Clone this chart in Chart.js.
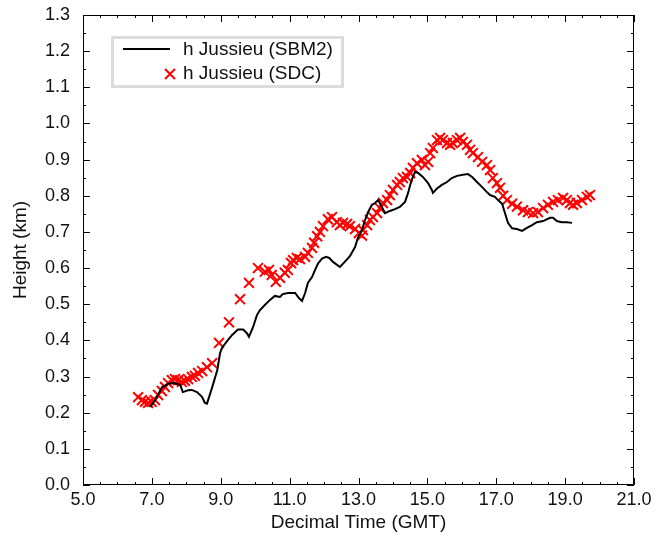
<!DOCTYPE html>
<html>
<head>
<meta charset="utf-8">
<script src="https://cdn.jsdelivr.net/npm/chart.js@4.4.1/dist/chart.umd.min.js"></script>
<style>
  html, body { margin: 0; padding: 0; background: #fff; }
  #wrap { width: 664px; height: 543px; position: relative; }
</style>
</head>
<body>
<div id="wrap"><canvas id="heightChart"></canvas></div>
<script>
// h Jussieu (SBM2) - continuous trace
const sbmTime = [6.95, 7.10, 7.29, 7.47, 7.65, 7.82, 7.90, 8.05, 8.16, 8.31, 8.46, 8.54, 8.60, 8.75, 8.90, 8.98,
  9.04, 9.12, 9.20, 9.33, 9.50, 9.65, 9.76, 9.82, 9.94, 10.05, 10.14, 10.28, 10.43, 10.57, 10.72, 10.80,
  10.95, 11.16, 11.27, 11.36, 11.45, 11.53, 11.65, 11.74, 11.82, 11.94, 12.06, 12.15, 12.26, 12.46, 12.60,
  12.75, 12.90, 12.98, 13.10, 13.19, 13.28, 13.39, 13.48, 13.57, 13.68, 13.77, 13.91, 14.06, 14.20, 14.35,
  14.44, 14.50, 14.58, 14.64, 14.73, 14.87, 15.02, 15.13, 15.16, 15.28, 15.42, 15.57, 15.71, 15.86, 16.03,
  16.18, 16.30, 16.44, 16.59, 16.73, 16.82, 16.96, 17.05, 17.17, 17.25, 17.34, 17.46, 17.60, 17.75, 17.89,
  18.04, 18.18, 18.36, 18.56, 18.65, 18.76, 18.90, 19.05, 19.20];
const sbmHeight = [0.216, 0.235, 0.270, 0.280, 0.282, 0.277, 0.257, 0.262, 0.263, 0.257, 0.243, 0.227, 0.225, 0.270, 0.318, 0.365,
  0.380, 0.390, 0.400, 0.415, 0.430, 0.430, 0.420, 0.410, 0.437, 0.470, 0.484, 0.498, 0.512, 0.523, 0.520, 0.528,
  0.531, 0.531, 0.517, 0.509, 0.531, 0.559, 0.575, 0.595, 0.612, 0.626, 0.631, 0.628, 0.617, 0.603, 0.617,
  0.633, 0.658, 0.683, 0.705, 0.733, 0.755, 0.775, 0.780, 0.788, 0.769, 0.752, 0.758, 0.763, 0.769, 0.783,
  0.808, 0.830, 0.852, 0.866, 0.863, 0.852, 0.835, 0.816, 0.808, 0.820, 0.830, 0.838, 0.849, 0.855, 0.858,
  0.860, 0.852, 0.838, 0.824, 0.810, 0.802, 0.797, 0.788, 0.778, 0.753, 0.725, 0.710, 0.708, 0.703, 0.711,
  0.719, 0.727, 0.730, 0.739, 0.739, 0.730, 0.727, 0.727, 0.725];

// h Jussieu (SDC) - markers
const sdcTime = [6.60, 6.71, 6.80, 6.89, 6.99, 7.09, 7.18, 7.29, 7.38, 7.47, 7.58, 7.67, 7.76, 7.87, 7.96, 8.05,
  8.16, 8.25, 8.34, 8.46, 8.60, 8.75, 8.95, 9.24, 9.56, 9.82, 10.08, 10.28, 10.40, 10.48, 10.60, 10.72,
  10.86, 10.95, 11.04, 11.10, 11.21, 11.30, 11.45, 11.53, 11.65, 11.71, 11.80, 11.88, 11.97, 12.11, 12.23,
  12.37, 12.46, 12.55, 12.67, 12.75, 12.90, 13.01, 13.10, 13.13, 13.25, 13.33, 13.42, 13.54, 13.62, 13.71,
  13.83, 13.91, 14.00, 14.12, 14.20, 14.29, 14.41, 14.50, 14.58, 14.70, 14.84, 14.93, 15.02, 15.08, 15.16,
  15.28, 15.37, 15.45, 15.57, 15.66, 15.74, 15.86, 15.95, 16.03, 16.15, 16.24, 16.32, 16.47, 16.59, 16.73,
  16.82, 16.90, 17.02, 17.11, 17.20, 17.31, 17.46, 17.60, 17.78, 17.92, 18.07, 18.21, 18.36, 18.50, 18.65,
  18.79, 18.94, 19.05, 19.14, 19.23, 19.34, 19.49, 19.63, 19.72];
const sdcHeight = [0.243, 0.235, 0.230, 0.227, 0.230, 0.235, 0.249, 0.260, 0.271, 0.282, 0.290, 0.293, 0.290, 0.285, 0.288, 0.293,
  0.299, 0.302, 0.310, 0.315, 0.326, 0.337, 0.393, 0.450, 0.514, 0.559, 0.600, 0.590, 0.595, 0.581, 0.562, 0.573,
  0.587, 0.595, 0.614, 0.622, 0.628, 0.625, 0.631, 0.642, 0.656, 0.670, 0.688, 0.700, 0.716, 0.735, 0.741,
  0.727, 0.719, 0.725, 0.722, 0.716, 0.708, 0.697, 0.690, 0.705, 0.719, 0.733, 0.741, 0.752, 0.766, 0.780,
  0.788, 0.802, 0.816, 0.830, 0.838, 0.849, 0.852, 0.863, 0.877, 0.890, 0.899, 0.885, 0.894, 0.918, 0.932,
  0.954, 0.960, 0.954, 0.946, 0.941, 0.946, 0.954, 0.960, 0.949, 0.941, 0.927, 0.918, 0.907, 0.894, 0.885,
  0.871, 0.849, 0.835, 0.822, 0.800, 0.788, 0.778, 0.770, 0.760, 0.755, 0.752, 0.755, 0.766, 0.775, 0.783,
  0.788, 0.794, 0.788, 0.780, 0.775, 0.780, 0.788, 0.797, 0.802];

const seriesLabels = ['h Jussieu (SBM2)', 'h Jussieu (SDC)'];
const xTitle = 'Decimal Time (GMT)';
const yTitle = 'Height (km)';

const FONT = '"Liberation Sans", Arial, sans-serif';

// frame + inward ticks on all four sides
const framePlugin = {
  id: 'frame',
  afterDraw(chart) {
    const ctx = chart.ctx;
    const a = chart.chartArea;
    const xs = chart.scales.x;
    const ys = chart.scales.y;
    ctx.save();
    ctx.strokeStyle = '#000';
    ctx.lineWidth = 1;
    ctx.beginPath();
    ctx.rect(a.left + 0.5, a.top + 0.5, a.right - a.left - 1, a.bottom - a.top - 1);
    ctx.stroke();
    ctx.beginPath();
    for (let i = 0; i <= 32; i++) {
      const v = 5 + i * 0.5;
      const px = Math.round(xs.getPixelForValue(v)) + 0.5;
      const len = (i % 4 === 0) ? 7 : 3;
      ctx.moveTo(px, a.bottom); ctx.lineTo(px, a.bottom - len);
      ctx.moveTo(px, a.top); ctx.lineTo(px, a.top + len);
    }
    for (let i = 0; i <= 26; i++) {
      const v = i * 0.05;
      const py = Math.round(ys.getPixelForValue(v)) + 0.5;
      const len = (i % 2 === 0) ? 7 : 3;
      ctx.moveTo(a.left, py); ctx.lineTo(a.left + len, py);
      ctx.moveTo(a.right, py); ctx.lineTo(a.right - len, py);
    }
    ctx.stroke();
    ctx.restore();
  }
};

// legend box drawn inside the plot
const legendBox = {
  id: 'legendBox',
  afterDraw(chart) {
    const ctx = chart.ctx;
    ctx.save();
    ctx.strokeStyle = '#dcdcdc';
    ctx.lineWidth = 3;
    ctx.strokeRect(112.5, 37.5, 230, 49);
    ctx.font = '19px ' + FONT;
    ctx.fillStyle = '#111';
    ctx.textBaseline = 'middle';
    ctx.fillText(seriesLabels[0], 183, 50);
    ctx.fillText(seriesLabels[1], 183, 74);
    ctx.strokeStyle = '#000';
    ctx.lineWidth = 2;
    ctx.beginPath();
    ctx.moveTo(123, 49); ctx.lineTo(170, 49);
    ctx.stroke();
    ctx.strokeStyle = '#ff0000';
    ctx.beginPath();
    ctx.moveTo(165, 69); ctx.lineTo(175, 79);
    ctx.moveTo(175, 69); ctx.lineTo(165, 79);
    ctx.stroke();
    ctx.restore();
  }
};

const ctx = document.getElementById('heightChart').getContext('2d');
new Chart(ctx, {
  type: 'scatter',
  data: {
    datasets: [
      {
        label: seriesLabels[0],
        data: sbmTime.map((t, i) => ({ x: t, y: sbmHeight[i] })),
        showLine: true,
        borderColor: '#000',
        borderWidth: 2,
        pointRadius: 0,
        tension: 0
      },
      {
        label: seriesLabels[1],
        data: sdcTime.map((t, i) => ({ x: t, y: sdcHeight[i] })),
        showLine: false,
        pointStyle: 'crossRot',
        pointRadius: 7,
        borderColor: '#ff0000',
        backgroundColor: '#ff0000',
        pointBorderWidth: 2
      }
    ]
  },
  options: {
    responsive: true,
    maintainAspectRatio: false,
    animation: false,
    layout: { padding: { top: 15, right: 30, left: 0, bottom: 0 } },
    plugins: {
      legend: { display: false },
      tooltip: { enabled: false }
    },
    scales: {
      x: {
        type: 'linear',
        min: 5, max: 21,
        grid: { display: false, drawTicks: false },
        border: { display: false },
        ticks: {
          stepSize: 2,
          padding: 4,
          color: '#111',
          font: { family: FONT, size: 18 },
          callback: v => v.toFixed(1),
          maxRotation: 0
        },
        title: {
          display: true,
          text: xTitle,
          color: '#111',
          font: { family: FONT, size: 19 },
          padding: { top: 0, bottom: 9 }
        },
        afterFit: s => { s.height = 58; }
      },
      y: {
        min: 0, max: 1.3,
        grid: { display: false, drawTicks: false },
        border: { display: false },
        ticks: {
          stepSize: 0.1,
          padding: 13,
          color: '#111',
          font: { family: FONT, size: 18 },
          callback: v => v.toFixed(1)
        },
        title: {
          display: true,
          text: yTitle,
          color: '#111',
          font: { family: FONT, size: 19 },
          padding: { top: 9, bottom: 0 }
        },
        afterFit: s => { s.width = 83; s.paddingTop = 0; s.paddingBottom = 0; }
      }
    }
  },
  plugins: [framePlugin, legendBox]
});
</script>
</body>
</html>
